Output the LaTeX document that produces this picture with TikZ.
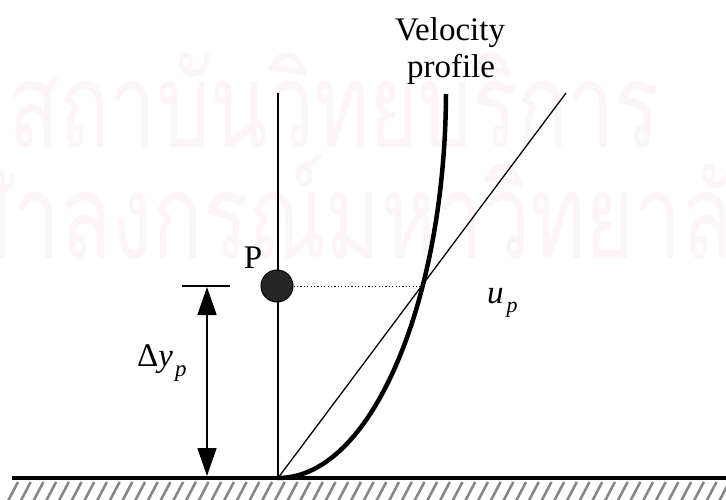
\documentclass[tikz,border=0pt]{standalone}
\usepackage{fontspec}
\setmainfont{Liberation Serif}
\newfontfamily\thaifont[Script=Thai]{Loma}
\usetikzlibrary{arrows.meta}
\definecolor{wm}{RGB}{253,244,247}
\definecolor{hatchgray}{RGB}{135,135,135}
\definecolor{ballfill}{RGB}{38,38,38}
\tikzset{
  thin line/.style={line width=1.3pt, black},
  wall/.style={line width=4.5pt, black},
  hatchline/.style={line width=2.6pt, hatchgray},
  profile/.style={line width=4.5pt, black},
  dimarrow/.style={line width=1.6pt, {Triangle[length=28pt,width=19pt]}-{Triangle[length=28pt,width=19pt]}},
  tick/.style={line width=1.4pt},
  dotline/.style={line width=1pt, dash pattern=on 1.2pt off 2.2pt},
  ball/.style={circle, draw, line width=1pt, fill=ballfill, minimum size=32pt, inner sep=0pt},
  lbl/.style={inner sep=0pt, font=\fontsize{33}{39}\selectfont},
  wmtext/.style={inner sep=0pt, text=wm, xscale=0.71, font=\thaifont\fontsize{118}{130}\selectfont}
}
\begin{document}
\begin{tikzpicture}[x=1pt,y=-1pt]
\useasboundingbox (0,0) rectangle (726,500);
\clip (0,0) rectangle (726,500);
% watermark
\node[wmtext, anchor=base west] (wm1) at (8,148) {สถาบันวิทยบริการ};
\node[wmtext, anchor=base east] (wm2a) at (13,258) {จุฬ};
\node[wmtext, anchor=base west] (wm2b) at (13,258) {าลงกรณ์มหาวิทยาลัย};
% coordinates
\coordinate (O) at (278,478);
\coordinate (vtop) at (278,93);
\coordinate (dtop) at (566,93);
\coordinate (ptop) at (446,94);
\coordinate (X) at (422,286);
\coordinate (wallL) at (12,478);
\coordinate (wallR) at (726,478);
\coordinate (tickL) at (182,286);
\coordinate (tickR) at (230,286);
\coordinate (dimtop) at (207,287);
\coordinate (dimbot) at (207,476);
% hatching
\foreach \i in {0,...,57} {
  \draw[hatchline] ({8+12.7*\i},501) -- ++(10,-19);
}
% wall
\draw[wall] (wallL) -- (wallR);
% lines
\draw[thin line] (O) -- (vtop);
\draw[thin line] (O) -- (dtop);
\draw[profile] (O) .. controls (372,478) and (445,300) .. (ptop);
% ball and dotted line
\node[ball] (P) at (277,286) {};
\draw[dotline] (P.east) -- (X);
% dimension
\draw[tick] (tickL) -- (tickR);
\draw[dimarrow] (dimtop) -- (dimbot);
% labels
\node[lbl, anchor=base] (vel1) at (450,41) {Velocity};
\node[lbl, anchor=base] (vel2) at (451,78) {profile};
\node[lbl, anchor=base] (Plabel) at (253,268) {P};
\node[lbl, anchor=base west] (up) at (487,303) {\textit{u}\kern3pt\raisebox{-9pt}{\fontsize{22}{22}\selectfont\textit{p}}};
\node[lbl, anchor=base west] (dy) at (137,366) {Δ\textit{y}\kern2pt\raisebox{-10pt}{\fontsize{23}{23}\selectfont\textit{p}}};
\end{tikzpicture}
\end{document}
